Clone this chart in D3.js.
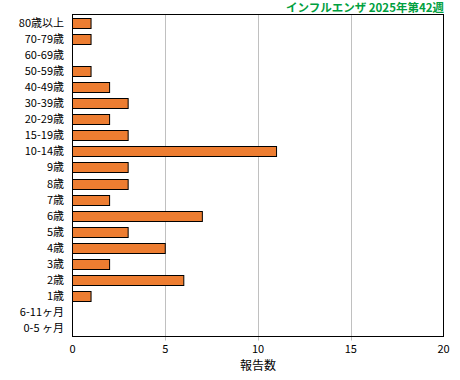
<!DOCTYPE html>
<html><head><meta charset="utf-8">
<script src="https://cdn.jsdelivr.net/npm/d3@7"></script>
<style>body{margin:0;background:#fff}svg{display:block}text{font-family:"Noto Sans CJK JP","DejaVu Sans",sans-serif}</style>
</head><body>
<svg id="c" width="460" height="380"></svg>
<script>
const categories = ["80歳以上","70-79歳","60-69歳","50-59歳","40-49歳","30-39歳","20-29歳","15-19歳","10-14歳","9歳","8歳","7歳","6歳","5歳","4歳","3歳","2歳","1歳","6-11ヶ月","0-5 ヶ月"];
const values = [1,1,0,1,2,3,2,3,11,3,3,2,7,3,5,2,6,1,0,0];
const xTicks = [0,5,10,15,20];
const title = "インフルエンザ 2025年第42週";
const xTitle = "報告数";

const svg = d3.select("#c");
const L = 72.5, R = 443.5, T = 14.5, B = 336.5;
const x = d3.scaleLinear().domain([0,20]).range([L,R]);
const y = d3.scaleBand().domain(categories).range([T,B]).paddingInner(0.38).paddingOuter(0.19);

// grid
svg.append("g").selectAll("line").data(xTicks.filter(d=>d>0&&d<20)).join("line")
  .attr("x1",d=>Math.round(x(d))+0.5).attr("x2",d=>Math.round(x(d))+0.5)
  .attr("y1",T).attr("y2",B+4).attr("stroke","#c0c0c0").attr("stroke-width",1);

// bars
const barData = values.map((v,i)=>({c:categories[i],v})).filter(d=>d.v>0);
svg.append("g").selectAll("rect").data(barData).join("rect")
  .attr("x",x(0)).attr("y",d=>Math.round(y(d.c))+0.5)
  .attr("width",d=>x(d.v)-x(0)).attr("height",Math.round(y.bandwidth()))
  .attr("fill","#ED7D31").attr("stroke","#000").attr("stroke-width",1);

// frame
svg.append("rect").attr("x",L).attr("y",T).attr("width",R-L).attr("height",B-T)
  .attr("fill","none").attr("stroke","#000").attr("stroke-width",1);

// x axis labels
svg.append("g").selectAll("text").data(xTicks).join("text")
  .attr("x",d=>x(d)).attr("y",353).attr("text-anchor","middle")
  .attr("font-size",11).attr("fill","#000").text(d=>d);

// y labels
svg.append("g").selectAll("text").data(categories).join("text")
  .attr("x",64).attr("y",d=>y(d)+y.bandwidth()/2).attr("dy","0.36em")
  .attr("text-anchor","end").attr("font-size",11).attr("fill","#000").text(d=>d);

svg.append("text").attr("x",x(10)).attr("y",370).attr("text-anchor","middle")
  .attr("font-size",12).attr("fill","#000").text(xTitle);

svg.append("text").attr("x",444).attr("y",12).attr("text-anchor","end")
  .attr("font-size",11.5).attr("font-weight","bold").attr("fill","#00A040").text(title);
</script>
</body></html>
